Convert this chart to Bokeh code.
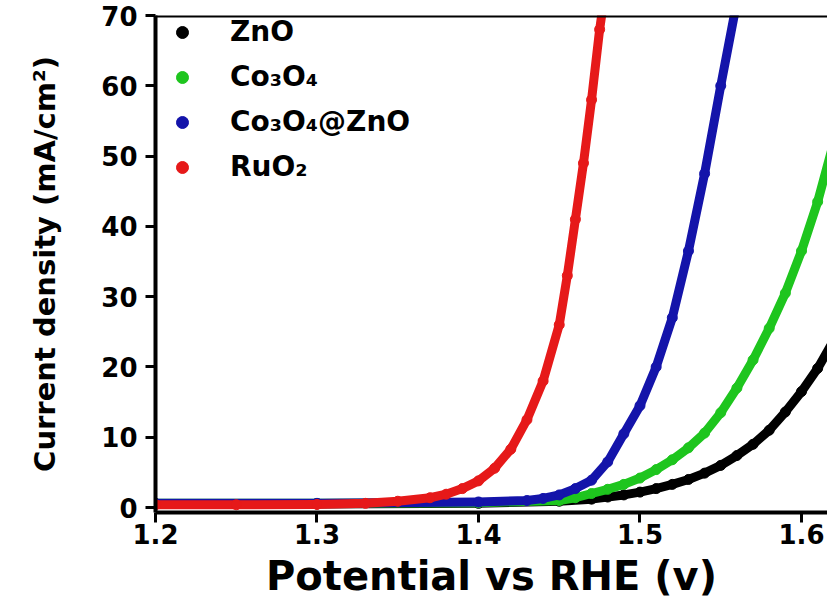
from bokeh.plotting import figure
from bokeh.models import Range1d, Span, Legend, LegendItem, FixedTicker
from bokeh.embed import file_html
from bokeh.resources import INLINE

# Data (potential in V, current density in mA/cm2)
zno_v = [1.20, 1.30, 1.40, 1.45, 1.47, 1.48, 1.49, 1.50, 1.51, 1.52, 1.53, 1.54, 1.55,
         1.56, 1.57, 1.58, 1.59, 1.60, 1.61, 1.62]
zno_j = [0.5, 0.5, 0.6, 0.9, 1.2, 1.5, 1.8, 2.2, 2.7, 3.3, 4.0, 4.9, 6.0,
         7.4, 9.0, 11.0, 13.6, 16.5, 19.8, 23.8]

co3o4_v = [1.20, 1.30, 1.40, 1.45, 1.46, 1.47, 1.48, 1.49, 1.50, 1.51, 1.52, 1.53, 1.54,
           1.55, 1.56, 1.57, 1.58, 1.59, 1.60, 1.61, 1.62]
co3o4_j = [0.6, 0.6, 0.7, 1.0, 1.4, 2.0, 2.6, 3.3, 4.2, 5.4, 6.8, 8.5, 10.6,
           13.5, 17.0, 21.0, 25.5, 30.5, 36.5, 43.5, 52.0]

comp_v = [1.20, 1.30, 1.40, 1.43, 1.44, 1.45, 1.46, 1.47, 1.48, 1.49, 1.50, 1.51, 1.52,
          1.53, 1.54, 1.55, 1.56]
comp_j = [0.6, 0.6, 0.8, 1.0, 1.3, 1.8, 2.7, 3.9, 6.5, 10.5, 14.5, 20.0, 27.0,
          36.5, 47.5, 60.0, 72.0]

ruo2_v = [1.20, 1.25, 1.30, 1.33, 1.35, 1.37, 1.38, 1.39, 1.40, 1.41, 1.42, 1.43, 1.44,
          1.45, 1.455, 1.46, 1.465, 1.47, 1.475, 1.4775]
ruo2_j = [0.4, 0.4, 0.45, 0.6, 0.9, 1.4, 1.9, 2.7, 3.8, 5.6, 8.3, 12.5, 18.0,
          26.0, 33.0, 41.0, 49.0, 58.0, 68.0, 72.0]

series_names = ["ZnO", "Co\u2083O\u2084", "Co\u2083O\u2084@ZnO", "RuO\u2082"]
series_colors = ["#000000", "#1ec51e", "#1414aa", "#e61919"]
x_ticks = [1.2, 1.3, 1.4, 1.5, 1.6]
y_ticks = [0, 10, 20, 30, 40, 50, 60, 70]

FONT = "DejaVu Sans"

p = figure(width=827, height=603, output_backend="svg", toolbar_location=None,
           x_range=Range1d(1.2, 1.6161), y_range=Range1d(-0.7, 70),
           min_border_left=155, min_border_right=0, min_border_top=15,
           min_border_bottom=91)
p.background_fill_color = "white"
p.border_fill_color = "white"
p.outline_line_color = None
p.grid.visible = False

data = [(zno_v, zno_j), (co3o4_v, co3o4_j), (comp_v, comp_j), (ruo2_v, ruo2_j)]
items = []
for (xs, ys), name, col in zip(data, series_names, series_colors):
    p.line(xs, ys, line_color=col, line_width=9, line_join="round", line_cap="round")
    r = p.scatter(xs, ys, size=10, fill_color=col, line_color=col)
    items.append(LegendItem(label=name, renderers=[r]))

p.add_layout(Span(location=70, dimension="width", line_color="black", line_width=4))

for ax in (p.xaxis[0], p.yaxis[0]):
    ax.axis_line_width = 4
    ax.axis_line_color = "black"
    ax.major_tick_line_width = 3
    ax.major_tick_line_color = "black"
    ax.major_tick_in = 0
    ax.major_tick_out = 10
    ax.minor_tick_line_color = None
    ax.major_label_text_font = FONT
    ax.major_label_text_font_style = "bold"
    ax.major_label_text_font_size = "26px"
    ax.major_label_text_color = "black"
    ax.axis_label_text_font = FONT
    ax.axis_label_text_font_style = "bold"
    ax.axis_label_text_color = "black"

p.xaxis.ticker = FixedTicker(ticks=x_ticks)
p.yaxis.ticker = FixedTicker(ticks=y_ticks)
p.xaxis.axis_label = "Potential vs RHE (v)"
p.yaxis.axis_label = "Current density (mA/cm\u00b2)"
p.xaxis.axis_label_text_font_size = "40px"
p.yaxis.axis_label_text_font_size = "29px"
p.xaxis.major_label_standoff = 1
p.yaxis.major_label_standoff = 8
p.xaxis.axis_label_standoff = 6
p.yaxis.axis_label_standoff = 36

legend = Legend(items=items, location="top_left", margin=0, padding=12,
                glyph_width=54, glyph_height=30, label_height=30, spacing=12,
                label_standoff=21, label_text_font=FONT, label_text_font_style="bold",
                label_text_font_size="28px", label_text_color="black",
                border_line_color=None, background_fill_alpha=0)
p.add_layout(legend)

open("out.html", "w").write(file_html(p, INLINE))
